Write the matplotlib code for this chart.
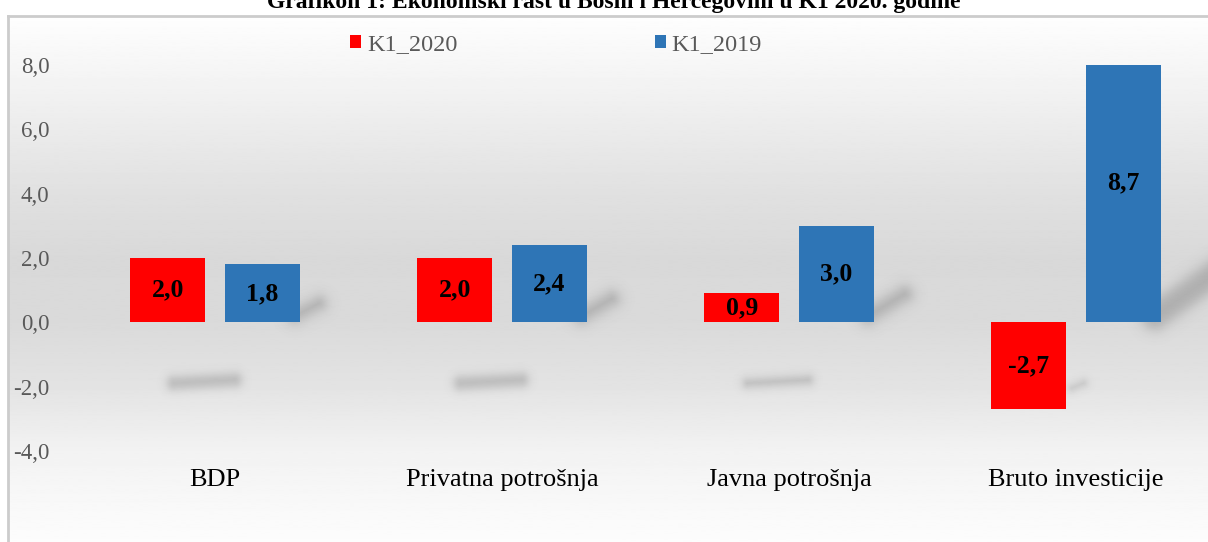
import numpy as np
import matplotlib
matplotlib.use("Agg")
import matplotlib.pyplot as plt

# data
categories = ["BDP", "Privatna potrošnja", "Javna potrošnja", "Bruto investicije"]
k1_2020 = [2.0, 2.0, 0.9, -2.7]
k1_2019 = [1.8, 2.4, 3.0, 8.7]
series_names = ["K1_2020", "K1_2019"]
y_ticks = [-4.0, -2.0, 0.0, 2.0, 4.0, 6.0, 8.0]
title = "Grafikon 1: Ekonomski rast u Bosni i Hercegovini u K1 2020. godine"

RED = "#FF0000"
BLUE = "#2E75B6"
GRAY_TXT = "#595959"

plt.rcParams['font.family'] = ['Liberation Serif', 'DejaVu Serif']

W, H = 1208, 542
fig = plt.figure(figsize=(W / 100, H / 100), dpi=100)
fig.patch.set_facecolor("white")

# background gradient inside the frame
bg = fig.add_axes([8 / W, 0, 1 - 8 / W, 1 - 16 / H], zorder=-10)
ys = np.linspace(16, H, 400)
stops_px = [16, 65, 194, 258, 322, 386, 451, 542]
stops_v = [0.995, 0.965, 0.88, 0.85, 0.855, 0.89, 0.95, 0.99]
g = np.interp(ys, stops_px, stops_v)
bg.imshow(g[:, None], cmap="gray", vmin=0, vmax=1, aspect="auto",
          extent=[0, 1, 0, 1], interpolation="bilinear")
bg.axis("off")

# frame lines
fig.add_artist(plt.Line2D([8 / W, 8 / W], [0, 1 - 16 / H], color="#cccccc", lw=2))
fig.add_artist(plt.Line2D([8 / W, 1], [1 - 16 / H, 1 - 16 / H], color="#cccccc", lw=2))

# title, partly cut off at top like the source
fig.text(0.508, 1 - 8 / H, title, ha="center", va="baseline",
         fontsize=17, fontweight="bold")

# main axes
ax_left = 71.5 / W
ax_w = 1148 / W
ax_bottom = 1 - 451 / H
ax_h = (451 - 65) / H
ax = fig.add_axes([ax_left, ax_bottom, ax_w, ax_h])
ax.set_facecolor("none")

x = np.arange(len(categories))
bw = 0.262
off = 0.165
xlim = (-0.5, 3.5)
ylim = (-4, 8)

# soft shadows: blurred capsules rendered as an image
px_x = 1148 / (xlim[1] - xlim[0])
px_y = 386 / (ylim[1] - ylim[0])
gx = np.linspace(xlim[0], xlim[1], 1148)
gy = np.linspace(ylim[0], ylim[1], 386)
GX, GY = np.meshgrid(gx, gy)
shade = np.zeros_like(GX)

def capsule(x0, y0, x1, y1, r, soft, strength):
    ax0, ay0 = x0 * px_x, y0 * px_y
    bx0, by0 = x1 * px_x, y1 * px_y
    PX, PY = GX * px_x, GY * px_y
    dx, dy = bx0 - ax0, by0 - ay0
    t = np.clip(((PX - ax0) * dx + (PY - ay0) * dy) / (dx * dx + dy * dy), 0, 1)
    d = np.hypot(PX - (ax0 + t * dx), PY - (ay0 + t * dy))
    return strength / (1 + np.exp((d - r) / soft))

for i, v in enumerate(k1_2020):
    if v > 0:
        cx = x[i] - 0.035
        shade += capsule(cx - 0.11, -1.9, cx + 0.1, -1.8, 2 + 2.2 * v, 2.8, 0.24)
    else:
        bx = x[i] - off + bw / 2
        shade += capsule(bx + 0.02, -2.05, bx + 0.06, -1.9, 3, 2.5, 0.18)

for i, v in enumerate(k1_2019):
    bx = x[i] + off + bw / 2
    shade += capsule(bx - 0.02, 0.2, bx + 0.035 * v, 0.15 + 0.24 * v,
                     4 + 1.0 * v, 4.0, 0.28)

shade = np.clip(shade, 0, 0.35)
rgba = np.zeros(shade.shape + (4,))
rgba[..., :3] = 0.25
rgba[..., 3] = shade
ax.imshow(rgba, extent=[xlim[0], xlim[1], ylim[0], ylim[1]], origin="lower",
          aspect="auto", zorder=1, interpolation="bilinear")

b1 = ax.bar(x - off, k1_2020, bw, color=RED, zorder=3, label=series_names[0])
b2 = ax.bar(x + off, k1_2019, bw, color=BLUE, zorder=3, label=series_names[1])

for bars, vals in ((b1, k1_2020), (b2, k1_2019)):
    for rect, v in zip(bars, vals):
        ax.text(rect.get_x() + rect.get_width() / 2, v / 2,
                f"{v:.1f}".replace(".", ","), ha="center", va="center",
                fontsize=18.5, fontweight="bold", color="black", zorder=5)

ax.set_xlim(*xlim)
ax.set_ylim(*ylim)
ax.set_yticks(y_ticks)
ax.set_yticklabels([f"{t:.1f}".replace(".", ",") for t in y_ticks],
                   fontsize=16.5, color=GRAY_TXT)
ax.set_xticks(x)
ax.set_xticklabels(categories, fontsize=19, color="black")
ax.tick_params(axis="y", length=0, pad=16)
ax.tick_params(axis="x", length=0, pad=13)
for s in ax.spines.values():
    s.set_visible(False)

leg = fig.legend(handles=[b1, b2], loc="center", ncol=2,
                 bbox_to_anchor=(0.4605, 1 - 45 / H), frameon=False,
                 fontsize=17.5, handlelength=0.45, handleheight=0.45,
                 handletextpad=0.25, columnspacing=8.1)
for t in leg.get_texts():
    t.set_color(GRAY_TXT)

fig.savefig("out.png", dpi=100)
